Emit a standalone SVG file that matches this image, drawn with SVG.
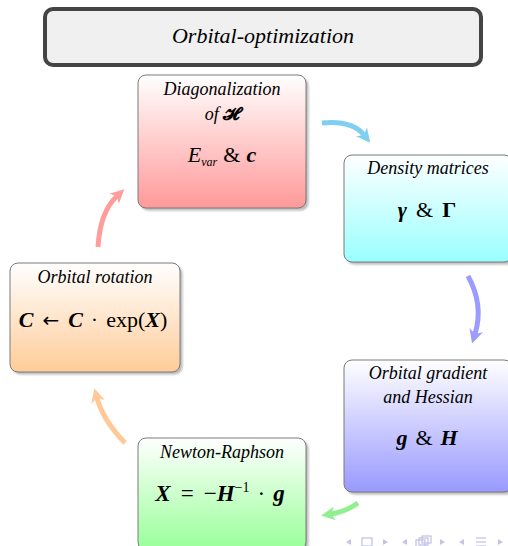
<svg xmlns="http://www.w3.org/2000/svg" width="508" height="546" viewBox="0 0 508 546">
<style>
.hdr{font-family:"Liberation Serif",serif;font-style:italic;font-weight:normal;font-size:18px;fill:#000;text-anchor:middle}
.math{font-family:"Liberation Serif",serif;font-size:22px;fill:#000;text-anchor:middle}
.bi{font-weight:bold;font-style:italic}
.b{font-weight:bold}
.it{font-style:italic}
.sym{font-family:"DejaVu Sans",sans-serif;font-size:20px}
.box{stroke:#7a7a7a;stroke-width:1}
.shadow{fill:#8a8a8a;opacity:0.6;filter:url(#blur)}
.arr{fill:none;stroke-width:5;stroke-linecap:butt}
.nav{fill:none;stroke:#c4c4e6;stroke-width:1.3}
.navf{fill:#c4c4e6}
</style>
<defs>
<filter id="blur" x="-10%" y="-10%" width="120%" height="120%"><feGaussianBlur stdDeviation="1"/></filter>
<linearGradient id="gRed" x1="0" y1="0" x2="0" y2="1"><stop offset="0" stop-color="#ffffff"/><stop offset="1" stop-color="#ff9999"/></linearGradient>
<linearGradient id="gCyan" x1="0" y1="0" x2="0" y2="1"><stop offset="0" stop-color="#ffffff"/><stop offset="1" stop-color="#99ffff"/></linearGradient>
<linearGradient id="gOrange" x1="0" y1="0" x2="0" y2="1"><stop offset="0" stop-color="#ffffff"/><stop offset="1" stop-color="#ffcc99"/></linearGradient>
<linearGradient id="gBlue" x1="0" y1="0" x2="0" y2="1"><stop offset="0" stop-color="#ffffff"/><stop offset="1" stop-color="#9999ff"/></linearGradient>
<linearGradient id="gGreen" x1="0" y1="0" x2="0" y2="1"><stop offset="0" stop-color="#ffffff"/><stop offset="1" stop-color="#99ff99"/></linearGradient>
<marker id="hCyan" viewBox="-5 -8 16 16" refX="0" refY="0" markerWidth="16" markerHeight="16" markerUnits="userSpaceOnUse" orient="auto"><path d="M10,0 L-4,-7 L0,0 L-4,7 Z" fill="#80cff0"/></marker>
<marker id="hBlue" viewBox="-5 -8 16 16" refX="0" refY="0" markerWidth="16" markerHeight="16" markerUnits="userSpaceOnUse" orient="auto"><path d="M10,0 L-4,-7 L0,0 L-4,7 Z" fill="#9c9cff"/></marker>
<marker id="hGreen" viewBox="-5 -8 16 16" refX="0" refY="0" markerWidth="16" markerHeight="16" markerUnits="userSpaceOnUse" orient="auto"><path d="M10,0 L-4,-7 L0,0 L-4,7 Z" fill="#90f090"/></marker>
<marker id="hOrange" viewBox="-5 -8 16 16" refX="0" refY="0" markerWidth="16" markerHeight="16" markerUnits="userSpaceOnUse" orient="auto"><path d="M10,0 L-4,-7 L0,0 L-4,7 Z" fill="#ffc999"/></marker>
<marker id="hRed" viewBox="-5 -8 16 16" refX="0" refY="0" markerWidth="16" markerHeight="16" markerUnits="userSpaceOnUse" orient="auto"><path d="M10,0 L-4,-7 L0,0 L-4,7 Z" fill="#ff9c9c"/></marker>
</defs>
<rect width="508" height="546" fill="#ffffff"/>

<g id="title">
<rect x="45" y="9" width="436" height="56" rx="8" fill="#f0f0f0" stroke="#444444" stroke-width="4"/>
<text x="263" y="43" class="hdr" style="font-size:22px">Orbital-optimization</text>
</g>

<g id="connectors">
<path class="arr" stroke="#80cff0" d="M322,123 Q352,120 364,135" marker-end="url(#hCyan)"/>
<path class="arr" stroke="#9c9cff" d="M468,276 Q484,305 475,334" marker-end="url(#hBlue)"/>
<path class="arr" stroke="#90f090" d="M358,503 Q345,512 331,514" marker-end="url(#hGreen)"/>
<path class="arr" stroke="#ffc999" d="M125,443 Q103,420 97,398" marker-end="url(#hOrange)"/>
<path class="arr" stroke="#ff9c9c" d="M98,247 Q100,212 117,196" marker-end="url(#hRed)"/>
</g>

<g id="diagonalization">
<rect class="shadow" x="140.5" y="77.5" width="168" height="133" rx="8"/>
<rect class="box" x="138" y="75" width="168" height="133" rx="8" fill="url(#gRed)"/>
<text x="222" y="95" class="hdr">Diagonalization</text>
<text x="222" y="120" class="hdr">of <tspan style="font-family:'DejaVu Serif','DejaVu Sans',serif;font-weight:bold;font-style:normal;font-size:18px">𝓗</tspan></text>
<text x="222" y="162" class="math"><tspan class="it">E</tspan><tspan class="it" style="font-size:12px" dy="4">var</tspan><tspan dy="-4" dx="6">&amp;</tspan><tspan class="bi" dx="6">c</tspan></text>
</g>

<g id="density">
<rect class="shadow" x="346.5" y="157.5" width="168" height="107" rx="8"/>
<rect class="box" x="344" y="155" width="168" height="107" rx="8" fill="url(#gCyan)"/>
<text x="428" y="174" class="hdr">Density matrices</text>
<text x="427" y="217" class="math"><tspan class="bi">γ</tspan><tspan dx="9">&amp;</tspan><tspan class="b" dx="9">Γ</tspan></text>
</g>

<g id="rotation">
<rect class="shadow" x="12.5" y="265.5" width="170" height="109" rx="8"/>
<rect class="box" x="10" y="263" width="170" height="109" rx="8" fill="url(#gOrange)"/>
<text x="95" y="283" class="hdr">Orbital rotation</text>
<text x="93" y="327" class="math"><tspan class="bi">C</tspan><tspan class="sym" dx="9">←</tspan><tspan class="bi" dx="9">C</tspan><tspan dx="8">·</tspan><tspan dx="8">exp(</tspan><tspan class="bi">X</tspan>)</text>
</g>

<g id="gradient">
<rect class="shadow" x="346.5" y="362.5" width="168" height="132" rx="8"/>
<rect class="box" x="344" y="360" width="168" height="132" rx="8" fill="url(#gBlue)"/>
<text x="428" y="379" class="hdr">Orbital gradient</text>
<text x="428" y="403" class="hdr">and Hessian</text>
<text x="427" y="445" class="math"><tspan class="bi">g</tspan><tspan dx="8">&amp;</tspan><tspan class="bi" dx="8">H</tspan></text>
</g>

<g id="newton">
<rect class="shadow" x="140.5" y="440.5" width="168" height="112" rx="8"/>
<rect class="box" x="138" y="438" width="168" height="112" rx="8" fill="url(#gGreen)"/>
<text x="222" y="458" class="hdr">Newton-Raphson</text>
<text x="220" y="501" class="math" style="font-size:23px"><tspan class="bi">X</tspan><tspan dx="10">=</tspan><tspan dx="10">−</tspan><tspan class="bi">H</tspan><tspan style="font-size:14px" dy="-9">−1</tspan><tspan dy="9" dx="8">·</tspan><tspan class="bi" dx="8">g</tspan></text>
</g>

<g id="navigation">
<polygon class="navf" points="346,542 351,539 351,545"/>
<rect class="nav" x="362" y="538" width="10" height="8"/>
<polygon class="navf" points="388,542 383,539 383,545"/>
<polygon class="navf" points="402,542 407,539 407,545"/>
<rect class="nav" x="416" y="540" width="9" height="7"/>
<rect class="nav" x="419" y="538" width="9" height="7" fill="#ffffff"/>
<rect class="nav" x="422" y="536" width="9" height="7" fill="#ffffff"/>
<polygon class="navf" points="445,542 440,539 440,545"/>
<polygon class="navf" points="459,542 464,539 464,545"/>
<line class="nav" x1="476" y1="538" x2="486" y2="538"/>
<line class="nav" x1="476" y1="542" x2="486" y2="542"/>
<line class="nav" x1="476" y1="546" x2="486" y2="546"/>
<polygon class="navf" points="503,542 498,539 498,545"/>
</g>
</svg>
